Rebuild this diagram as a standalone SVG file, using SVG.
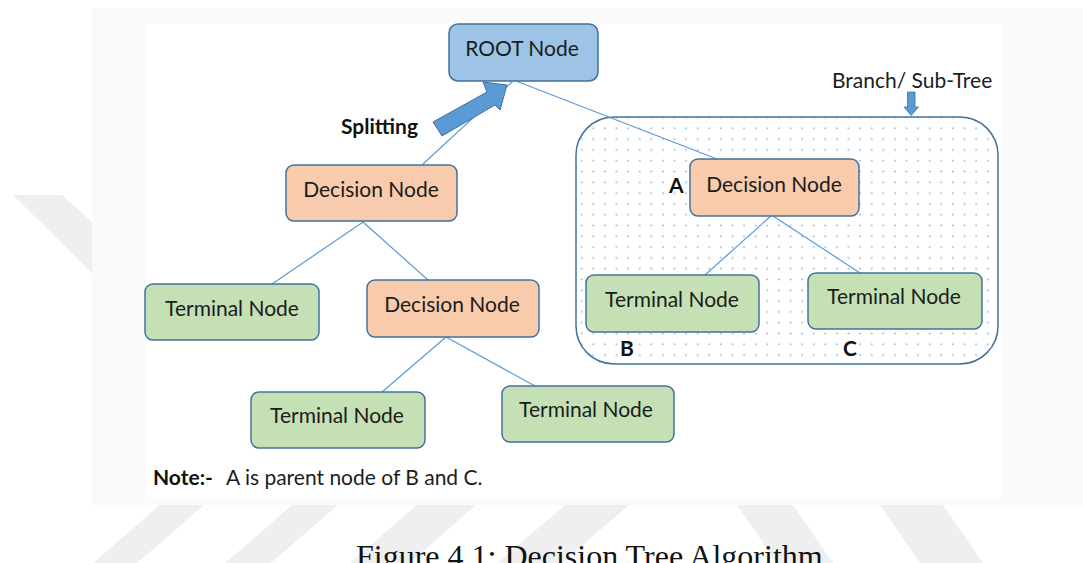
<svg xmlns="http://www.w3.org/2000/svg" width="1083" height="563" viewBox="0 0 1083 563">
<style>
.nt{font-family:Lato,"Liberation Sans",sans-serif;font-size:21px;fill:#1c1c1c;text-anchor:middle}
.lb{font-family:Lato,"Liberation Sans",sans-serif;font-size:21px;fill:#111;font-weight:bold}
.lr{font-family:Lato,"Liberation Sans",sans-serif;font-size:21px;fill:#1c1c1c}
.root{fill:#9dc3e6;stroke:#41719c;stroke-width:1.5}
.dec{fill:#f8cbad;stroke:#41719c;stroke-width:1.5}
.term{fill:#c5e0b4;stroke:#41719c;stroke-width:1.5}
.con{stroke:#5b9bd5;stroke-width:1.2;fill:none}
.wm{fill:#efefef}
</style>
<defs>
<pattern id="dots" patternUnits="userSpaceOnUse" x="575.9" y="122.9" width="11.6" height="10.8">
<circle cx="5.8" cy="5.4" r="0.9" fill="#8fb4dc"/>
</pattern>
</defs>
<rect width="1083" height="563" fill="#ffffff"/>
<g id="watermark">
<polygon class="wm" points="13,195 62,195 92,222 92,273"/>
<polygon class="wm" points="160,505 204,505 137,563 93,563"/>
<polygon class="wm" points="292,505 338,505 271,563 225,563"/>
<polygon class="wm" points="417,505 476,505 409,563 350,563"/>
<polygon class="wm" points="565,505 629,505 562,563 498,563"/>
<polygon class="wm" points="737,505 793,505 833,563 777,563"/>
<polygon class="wm" points="880,505 943,505 983,563 920,563"/>
</g>
<rect x="92" y="8" width="991" height="497" fill="#fafafa"/>
<rect x="145" y="24" width="857" height="473" fill="#ffffff"/>
<g id="subtree">
<rect x="576" y="117" width="422" height="247" rx="38" ry="38" fill="#ffffff"/>
<rect x="576" y="117" width="422" height="247" rx="38" ry="38" fill="url(#dots)" stroke="#41719c" stroke-width="1.5"/>
</g>
<g id="connectors">
<line class="con" x1="513" y1="81" x2="423" y2="164"/>
<line class="con" x1="516" y1="81" x2="717" y2="159"/>
<line class="con" x1="363" y1="222" x2="272" y2="284"/>
<line class="con" x1="363" y1="222" x2="428" y2="280"/>
<line class="con" x1="446" y1="337" x2="382" y2="392"/>
<line class="con" x1="446" y1="337" x2="535" y2="386"/>
<line class="con" x1="771" y1="216" x2="705" y2="275"/>
<line class="con" x1="773" y1="216" x2="860" y2="273"/>
</g>
<g id="splitting">
<polygon points="433,122 487,92 483,82 507,85 500,110 495,105 442,136" fill="#5b9bd5" stroke="#41719c" stroke-width="1"/>
<text class="lb" x="341" y="134" font-size="22">Splitting</text>
</g>
<g id="branch-label">
<text class="lr" x="832" y="88">Branch/ Sub-Tree</text>
<polygon points="907.5,92 915,92 915,107 918.5,107 911.2,115.5 904,107 907.5,107" fill="#5b9bd5" stroke="#41719c" stroke-width="0.8"/>
</g>
<g id="root">
<rect class="root" x="449" y="24" width="149" height="57" rx="9"/>
<text class="nt" x="522" y="56">ROOT Node</text>
</g>
<g id="decision-left">
<rect class="dec" x="286" y="165" width="171" height="56" rx="8"/>
<text class="nt" x="371" y="197">Decision Node</text>
</g>
<g id="terminal-left">
<rect class="term" x="145" y="284" width="174" height="56" rx="8"/>
<text class="nt" x="232" y="316">Terminal Node</text>
</g>
<g id="decision-middle">
<rect class="dec" x="367" y="280" width="172" height="57" rx="8"/>
<text class="nt" x="452" y="312">Decision Node</text>
</g>
<g id="terminal-bottom-left">
<rect class="term" x="251" y="392" width="174" height="56" rx="8"/>
<text class="nt" x="337" y="423">Terminal Node</text>
</g>
<g id="terminal-bottom-right">
<rect class="term" x="502" y="386" width="172" height="56" rx="8"/>
<text class="nt" x="586" y="417">Terminal Node</text>
</g>
<g id="decision-A">
<rect class="dec" x="690" y="159" width="169" height="57" rx="8"/>
<text class="nt" x="774" y="192">Decision Node</text>
<text class="lb" x="669" y="193">A</text>
</g>
<g id="terminal-B">
<rect class="term" x="586" y="275" width="173" height="57" rx="8"/>
<text class="nt" x="672" y="307">Terminal Node</text>
<text class="lb" x="620" y="356">B</text>
</g>
<g id="terminal-C">
<rect class="term" x="808" y="273" width="174" height="56" rx="8"/>
<text class="nt" x="894" y="304">Terminal Node</text>
<text class="lb" x="843" y="356">C</text>
</g>
<g id="note">
<text class="lb" x="153" y="485">Note:-</text>
<text class="lr" x="226" y="485">A is parent node of B and C.</text>
</g>
<text x="356" y="567" font-family="'Liberation Serif',serif" font-size="32" fill="#111">Figure 4.1: Decision Tree Algorithm</text>
</svg>
